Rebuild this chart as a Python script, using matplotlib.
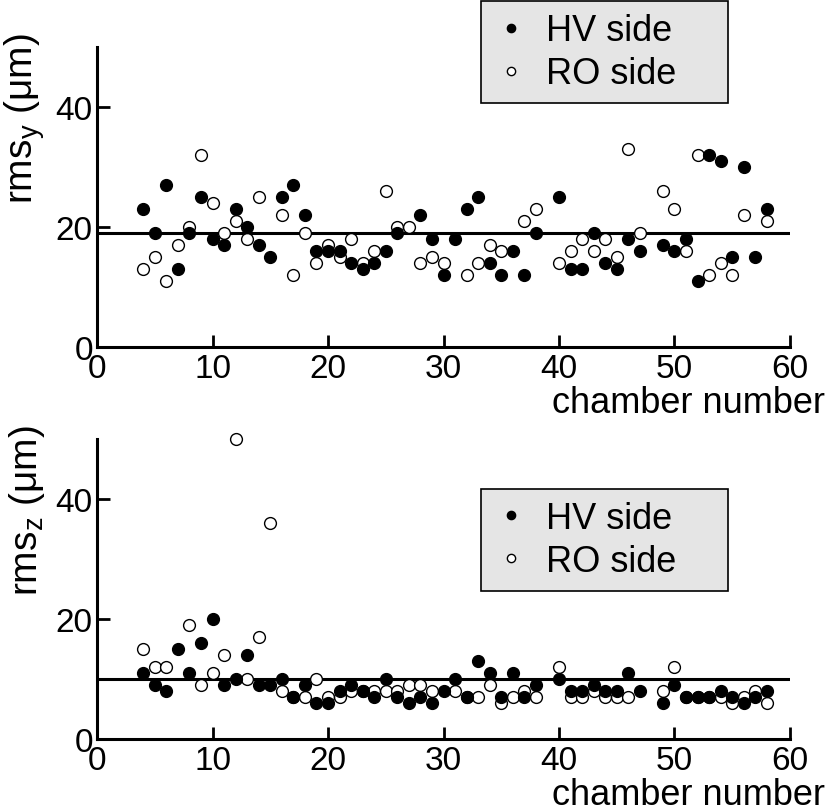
import numpy as np
import matplotlib
matplotlib.use("Agg")
import matplotlib.pyplot as plt

# ------------------------------------------------------
# Data (nan = no point drawn)
# ------------------------------------------------------
nan = np.nan
chamber = np.arange(4, 59)

rms_y_hv = [23, 19, 27, 13, 19, 25, 18, 17, 23, 20, 17, 15, 25, 27, 22, 16, 16,
            16, 14, 13, 14, 16, 19, nan, 22, 18, 12, 18, 23, 25, 14, 12, 16, 12,
            19, nan, 25, 13, 13, 19, 14, 13, 18, 16, nan, 17, 16, 18, 11, 32, 31,
            15, 30, 15, 23]
rms_y_ro = [13, 15, 11, 17, 20, 32, 24, 19, 21, 18, 25, nan, 22, 12, 19, 14, 17,
            15, 18, 14, 16, 26, 20, 20, 14, 15, 14, nan, 12, 14, 17, 16, nan, 21,
            23, nan, 14, 16, 18, 16, 18, 15, 33, 19, nan, 26, 23, 16, 32, 12, 14,
            12, 22, nan, 21]

rms_z_hv = [11, 9, 8, 15, 11, 16, 20, 9, 10, 14, 9, 9, 10, 7, 9, 6, 6,
            8, 9, 8, 7, 10, 7, 6, 7, 6, 8, 10, 7, 13, 11, 7, 11, 7,
            9, nan, 10, 8, 8, 9, 8, 8, 11, 8, nan, 6, 9, 7, 7, 7, 8,
            7, 6, 7, 8]
rms_z_ro = [15, 12, 12, nan, 19, 9, 11, 14, 50, 10, 17, 36, 8, 7, 7, 10, 7,
            7, 8, 8, 8, 8, 8, 9, 9, 8, nan, 8, 7, 7, 9, 6, 7, 8,
            7, nan, 12, 7, 7, 8, 7, 7, 7, nan, nan, 8, 12, 7, 7, 7, 7,
            6, 7, 8, 6]

mean_y = 19
mean_z = 10

X_LABEL = "chamber number"
Y_LABELS = [r"rms$_\mathregular{y}$ (μm)", r"rms$_\mathregular{z}$ (μm)"]
LEGEND = ["HV side", "RO side"]

# ------------------------------------------------------
# Style
# ------------------------------------------------------
plt.rcParams["font.family"] = ["Liberation Sans", "DejaVu Sans"]
plt.rcParams["mathtext.default"] = "regular"

fig = plt.figure(figsize=(8.3, 8.12), dpi=100)
ax_top = fig.add_axes([0.1169, 0.5714, 0.8349, 0.3695])
ax_bot = fig.add_axes([0.1169, 0.0887, 0.8349, 0.3695])


def draw_panel(ax, hv, ro, mean, ylabel, legend_top):
    ax.axhline(mean, color="black", lw=2.2, zorder=1)
    ax.plot(chamber, hv, "o", ls="none", color="black", ms=8.5, zorder=3,
            clip_on=False, label=LEGEND[0])
    ax.plot(chamber, ro, "o", ls="none", mfc="white", mec="black", mew=1.0,
            ms=8.5, zorder=2, clip_on=False, label=LEGEND[1])

    ax.set_xlim(0, 60)
    ax.set_ylim(0, 50)
    ax.set_xticks(range(0, 61, 10))
    ax.set_yticks([0, 20, 40])
    for side in ("top", "right"):
        ax.spines[side].set_visible(False)
    for side in ("left", "bottom"):
        ax.spines[side].set_linewidth(2.2)
    ax.tick_params(direction="in", length=9, width=2, labelsize=24, pad=4)
    ax.tick_params(axis="y", pad=3)

    ax.set_ylabel(ylabel, fontsize=28)
    ax.yaxis.set_label_coords(-0.072, 0.765)
    ax.text(1.05, -0.218, X_LABEL, transform=ax.transAxes, ha="right",
            va="baseline", fontsize=26)

    leg = ax.legend(loc="upper right", bbox_to_anchor=(0.877, legend_top),
                    bbox_transform=fig.transFigure, fontsize=26, markerscale=0.7,
                    frameon=True, fancybox=False, framealpha=1, handlelength=1.0,
                    handletextpad=0.45, borderpad=0.33, labelspacing=0.22,
                    borderaxespad=0)
    leg.get_frame().set_facecolor("#e5e5e5")
    leg.get_frame().set_edgecolor("black")
    leg.get_frame().set_linewidth(1.2)
    # pad the labels so the box is as wide as in the original
    for t in leg.get_texts():
        t.set_text(t.get_text() + "    ")


draw_panel(ax_top, rms_y_hv, rms_y_ro, mean_y, Y_LABELS[0], 0.997)
draw_panel(ax_bot, rms_z_hv, rms_z_ro, mean_z, Y_LABELS[1], 0.3966)

fig.savefig("out.png", dpi=100)
